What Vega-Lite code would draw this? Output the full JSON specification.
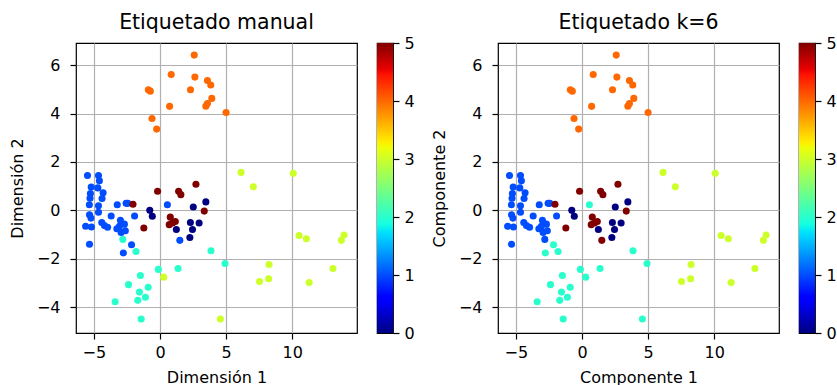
{
  "$schema": "https://vega.github.io/schema/vega-lite/v6.json",
  "padding": {"left": 8, "top": 3, "right": 0, "bottom": 0},
  "background": "white",
  "config": {
    "font": "DejaVu Sans",
    "view": {"stroke": "black", "strokeWidth": 1.2},
    "axis": {
      "grid": true, "gridColor": "#b0b0b0", "gridWidth": 1.2,
      "domain": false, "ticks": true, "tickColor": "black", "tickSize": 6, "tickWidth": 1.2,
      "labelFont": "DejaVu Sans", "labelFontSize": 16, "labelColor": "black", "labelPadding": 5,
      "titleFont": "DejaVu Sans", "titleFontSize": 16, "titleFontWeight": "normal", "titleColor": "black", "titlePadding": 6
    },
    "axisX": {"titlePadding": 9},
    "axisY": {"labelPadding": 10, "titlePadding": 11},
    "title": {"font": "DejaVu Sans", "fontSize": 20.5, "fontWeight": "normal", "color": "black", "offset": 10}
  },
  "datasets": {
    "cb": [{"a": 0, "b": 1, "lo": 0, "hi": 5}],
    "pts": [
      {"x": 2.59, "y": 6.42, "m": 4, "k": 4},
      {"x": 0.85, "y": 5.62, "m": 4, "k": 4},
      {"x": 2.64, "y": 5.51, "m": 4, "k": 4},
      {"x": 3.59, "y": 5.37, "m": 4, "k": 4},
      {"x": 3.84, "y": 5.18, "m": 4, "k": 4},
      {"x": -0.88, "y": 4.99, "m": 4, "k": 4},
      {"x": -0.73, "y": 4.93, "m": 4, "k": 4},
      {"x": 2.31, "y": 4.99, "m": 4, "k": 4},
      {"x": 3.92, "y": 4.63, "m": 4, "k": 4},
      {"x": 3.59, "y": 4.42, "m": 4, "k": 4},
      {"x": 3.47, "y": 4.31, "m": 4, "k": 4},
      {"x": 0.73, "y": 4.30, "m": 4, "k": 4},
      {"x": 5.00, "y": 4.05, "m": 4, "k": 4},
      {"x": -0.60, "y": 3.80, "m": 4, "k": 4},
      {"x": -0.25, "y": 3.36, "m": 4, "k": 4},
      {"x": 6.13, "y": 1.57, "m": 3, "k": 3},
      {"x": 7.06, "y": 0.98, "m": 3, "k": 3},
      {"x": 10.08, "y": 1.53, "m": 3, "k": 3},
      {"x": 10.52, "y": -1.04, "m": 3, "k": 3},
      {"x": 11.07, "y": -1.17, "m": 3, "k": 3},
      {"x": 13.72, "y": -1.24, "m": 3, "k": 3},
      {"x": 13.92, "y": -1.02, "m": 3, "k": 3},
      {"x": 8.25, "y": -2.24, "m": 3, "k": 3},
      {"x": 8.22, "y": -2.83, "m": 3, "k": 3},
      {"x": 7.53, "y": -2.94, "m": 3, "k": 3},
      {"x": 11.28, "y": -2.98, "m": 3, "k": 3},
      {"x": 13.08, "y": -2.40, "m": 3, "k": 3},
      {"x": 0.28, "y": -2.76, "m": 3, "k": 2},
      {"x": 4.57, "y": -4.49, "m": 3, "k": 2},
      {"x": -1.81, "y": -1.70, "m": 2, "k": 2},
      {"x": 3.86, "y": -1.67, "m": 2, "k": 2},
      {"x": 4.92, "y": -2.20, "m": 2, "k": 2},
      {"x": -0.12, "y": -2.44, "m": 2, "k": 2},
      {"x": 1.37, "y": -2.40, "m": 2, "k": 2},
      {"x": -1.48, "y": -2.69, "m": 2, "k": 2},
      {"x": -2.38, "y": -3.07, "m": 2, "k": 2},
      {"x": -0.89, "y": -3.18, "m": 2, "k": 2},
      {"x": -1.55, "y": -3.38, "m": 2, "k": 2},
      {"x": -1.10, "y": -3.59, "m": 2, "k": 2},
      {"x": -1.68, "y": -3.72, "m": 2, "k": 2},
      {"x": -3.39, "y": -3.78, "m": 2, "k": 2},
      {"x": -1.42, "y": -4.49, "m": 2, "k": 2},
      {"x": -2.81, "y": -1.20, "m": 2, "k": 1},
      {"x": -2.15, "y": -1.42, "m": 1, "k": 2},
      {"x": -2.77, "y": -1.76, "m": 1, "k": 2},
      {"x": 0.56, "y": 0.23, "m": 1, "k": 2},
      {"x": 1.50, "y": -1.24, "m": 1, "k": 5},
      {"x": -5.48, "y": 1.44, "m": 1, "k": 1},
      {"x": -4.65, "y": 1.44, "m": 1, "k": 1},
      {"x": -4.58, "y": 1.22, "m": 1, "k": 1},
      {"x": -5.20, "y": 0.97, "m": 1, "k": 1},
      {"x": -4.70, "y": 0.93, "m": 1, "k": 1},
      {"x": -4.30, "y": 0.73, "m": 1, "k": 1},
      {"x": -5.26, "y": 0.70, "m": 1, "k": 1},
      {"x": -5.29, "y": 0.50, "m": 1, "k": 1},
      {"x": -4.38, "y": 0.49, "m": 1, "k": 1},
      {"x": -5.34, "y": 0.23, "m": 1, "k": 1},
      {"x": -4.65, "y": 0.19, "m": 1, "k": 1},
      {"x": -3.23, "y": 0.23, "m": 1, "k": 1},
      {"x": -2.56, "y": 0.29, "m": 1, "k": 1},
      {"x": -2.43, "y": 0.29, "m": 1, "k": 1},
      {"x": -5.33, "y": -0.18, "m": 1, "k": 1},
      {"x": -4.65, "y": -0.08, "m": 1, "k": 1},
      {"x": -5.22, "y": -0.32, "m": 1, "k": 1},
      {"x": -3.69, "y": -0.23, "m": 1, "k": 1},
      {"x": -1.92, "y": -0.23, "m": 1, "k": 1},
      {"x": -4.40, "y": -0.50, "m": 1, "k": 1},
      {"x": -4.20, "y": -0.63, "m": 1, "k": 1},
      {"x": -3.96, "y": -0.70, "m": 1, "k": 1},
      {"x": -5.62, "y": -0.66, "m": 1, "k": 1},
      {"x": -5.18, "y": -0.69, "m": 1, "k": 1},
      {"x": -2.99, "y": -0.41, "m": 1, "k": 1},
      {"x": -3.07, "y": -0.66, "m": 1, "k": 1},
      {"x": -3.26, "y": -0.76, "m": 1, "k": 1},
      {"x": -2.69, "y": -0.57, "m": 1, "k": 1},
      {"x": -2.62, "y": -0.84, "m": 1, "k": 1},
      {"x": -2.94, "y": -0.91, "m": 1, "k": 1},
      {"x": -5.33, "y": -1.40, "m": 1, "k": 1},
      {"x": -0.77, "y": 0.00, "m": 0, "k": 0},
      {"x": -0.58, "y": -0.24, "m": 0, "k": 0},
      {"x": 2.52, "y": 0.14, "m": 0, "k": 0},
      {"x": 3.47, "y": 0.35, "m": 0, "k": 0},
      {"x": 2.30, "y": -0.50, "m": 0, "k": 0},
      {"x": 2.96, "y": -0.52, "m": 0, "k": 0},
      {"x": 2.46, "y": -0.79, "m": 0, "k": 0},
      {"x": 2.26, "y": -1.12, "m": 0, "k": 0},
      {"x": 1.24, "y": -0.79, "m": 0, "k": 0},
      {"x": -2.04, "y": 0.25, "m": 5, "k": 5},
      {"x": -1.22, "y": -0.73, "m": 5, "k": 5},
      {"x": -0.18, "y": 0.79, "m": 5, "k": 5},
      {"x": 1.41, "y": 0.79, "m": 5, "k": 5},
      {"x": 1.58, "y": 0.65, "m": 5, "k": 5},
      {"x": 2.72, "y": 1.08, "m": 5, "k": 5},
      {"x": 3.35, "y": -0.03, "m": 5, "k": 5},
      {"x": 0.78, "y": -0.28, "m": 5, "k": 5},
      {"x": 0.70, "y": -0.59, "m": 5, "k": 5},
      {"x": 1.16, "y": -0.46, "m": 5, "k": 5},
      {"x": 0.95, "y": -0.52, "m": 5, "k": 5}
    ]
  },
  "spacing": 15,
  "hconcat": [
    {
      "spacing": 18,
      "hconcat": [
        {
          "title": "Etiquetado manual",
          "width": 281, "height": 290,
          "data": {"name": "pts"},
          "mark": {"type": "circle", "size": 50, "opacity": 1},
          "encoding": {
            "x": {"field": "x", "type": "quantitative", "title": "Dimensión 1",
                  "scale": {"domain": [-6.35, 14.9], "nice": false, "zero": false},
                  "axis": {"values": [-5, 0, 5, 10]}},
            "y": {"field": "y", "type": "quantitative", "title": "Dimensión 2",
                  "scale": {"domain": [-5.07, 6.92], "nice": false, "zero": false},
                  "axis": {"values": [-4, -2, 0, 2, 4, 6]}},
            "color": {"field": "m", "type": "quantitative",
                      "scale": {"domain": [0, 0.55, 0.625, 1.7, 1.75, 1.875, 3.2, 3.25, 3.3, 4.45, 4.55, 5],
                                "range": ["#000080", "#0000ff", "#0000ff", "#00dbff", "#00e5f8", "#14ffe2", "#eeff08", "#f7f500", "#ffec00", "#ff1300", "#e80000", "#800000"],
                                "interpolate": "rgb"},
                      "legend": null}
          }
        },
        {
          "title": " ",
          "width": 16, "height": 290,
          "data": {"name": "cb"},
          "mark": {"type": "rect", "color": {"gradient": "linear", "x1": 0, "y1": 1, "x2": 0, "y2": 0,
            "stops": [
              {"offset": 0, "color": "#000080"}, {"offset": 0.11, "color": "#0000ff"}, {"offset": 0.125, "color": "#0000ff"},
              {"offset": 0.34, "color": "#00dbff"}, {"offset": 0.35, "color": "#00e5f8"}, {"offset": 0.375, "color": "#14ffe2"},
              {"offset": 0.64, "color": "#eeff08"}, {"offset": 0.65, "color": "#f7f500"}, {"offset": 0.66, "color": "#ffec00"},
              {"offset": 0.89, "color": "#ff1300"}, {"offset": 0.91, "color": "#e80000"}, {"offset": 1, "color": "#800000"}]}},
          "encoding": {
            "x": {"field": "a", "type": "quantitative", "scale": {"domain": [0, 1], "nice": false}, "axis": null},
            "x2": {"field": "b"},
            "y": {"field": "lo", "type": "quantitative", "scale": {"domain": [0, 5], "nice": false},
                  "axis": {"orient": "right", "values": [0, 1, 2, 3, 4, 5], "grid": false, "labelPadding": 5, "title": null, "format": "d"}},
            "y2": {"field": "hi"}
          }
        }
      ]
    },
    {
      "spacing": 18,
      "hconcat": [
        {
          "title": "Etiquetado k=6",
          "width": 281, "height": 290,
          "data": {"name": "pts"},
          "mark": {"type": "circle", "size": 50, "opacity": 1},
          "encoding": {
            "x": {"field": "x", "type": "quantitative", "title": "Componente 1",
                  "scale": {"domain": [-6.35, 14.9], "nice": false, "zero": false},
                  "axis": {"values": [-5, 0, 5, 10]}},
            "y": {"field": "y", "type": "quantitative", "title": "Componente 2",
                  "scale": {"domain": [-5.07, 6.92], "nice": false, "zero": false},
                  "axis": {"values": [-4, -2, 0, 2, 4, 6]}},
            "color": {"field": "k", "type": "quantitative",
                      "scale": {"domain": [0, 0.55, 0.625, 1.7, 1.75, 1.875, 3.2, 3.25, 3.3, 4.45, 4.55, 5],
                                "range": ["#000080", "#0000ff", "#0000ff", "#00dbff", "#00e5f8", "#14ffe2", "#eeff08", "#f7f500", "#ffec00", "#ff1300", "#e80000", "#800000"],
                                "interpolate": "rgb"},
                      "legend": null}
          }
        },
        {
          "title": " ",
          "width": 16, "height": 290,
          "data": {"name": "cb"},
          "mark": {"type": "rect", "color": {"gradient": "linear", "x1": 0, "y1": 1, "x2": 0, "y2": 0,
            "stops": [
              {"offset": 0, "color": "#000080"}, {"offset": 0.11, "color": "#0000ff"}, {"offset": 0.125, "color": "#0000ff"},
              {"offset": 0.34, "color": "#00dbff"}, {"offset": 0.35, "color": "#00e5f8"}, {"offset": 0.375, "color": "#14ffe2"},
              {"offset": 0.64, "color": "#eeff08"}, {"offset": 0.65, "color": "#f7f500"}, {"offset": 0.66, "color": "#ffec00"},
              {"offset": 0.89, "color": "#ff1300"}, {"offset": 0.91, "color": "#e80000"}, {"offset": 1, "color": "#800000"}]}},
          "encoding": {
            "x": {"field": "a", "type": "quantitative", "scale": {"domain": [0, 1], "nice": false}, "axis": null},
            "x2": {"field": "b"},
            "y": {"field": "lo", "type": "quantitative", "scale": {"domain": [0, 5], "nice": false},
                  "axis": {"orient": "right", "values": [0, 1, 2, 3, 4, 5], "grid": false, "labelPadding": 5, "title": null, "format": "d"}},
            "y2": {"field": "hi"}
          }
        }
      ]
    }
  ]
}
